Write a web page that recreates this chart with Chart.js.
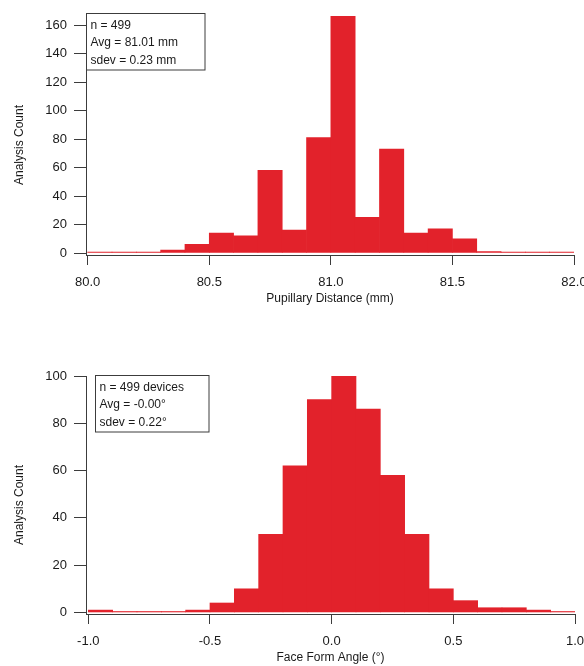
<!DOCTYPE html>
<html>
<head>
<meta charset="utf-8">
<script src="https://cdn.jsdelivr.net/npm/chart.js@4.4.0/dist/chart.umd.min.js"></script>
<style>
  html, body { margin: 0; padding: 0; background: #fff; }
  #topo { position: absolute; left: 0; top: 0; width: 584px; height: 310px; }
  #baixo { position: absolute; left: 0; top: 310px; width: 584px; height: 356px; }
</style>
</head>
<body>
<div id="topo"><canvas id="grafico_pd" width="584" height="310"></canvas></div>
<div id="baixo"><canvas id="grafico_ffa" width="584" height="356"></canvas></div>
<script>
// pupillary distance histogram (bin centres, 0.1 mm bins)
const pdBins = [80.05, 80.15, 80.25, 80.35, 80.45, 80.55, 80.65, 80.75, 80.85, 80.95,
                81.05, 81.15, 81.25, 81.35, 81.45, 81.55, 81.65, 81.75, 81.85, 81.95];
const pdCounts = [0.6, 0.6, 0.6, 2, 6, 14, 12, 58, 16, 81,
                  166, 25, 73, 14, 17, 10, 1, 0.6, 0.6, 0.6];
const pdXTicks = [80.0, 80.5, 81.0, 81.5, 82.0];
const pdYTicks = [0, 20, 40, 60, 80, 100, 120, 140, 160];
const pdStats = ['n = 499', 'Avg = 81.01 mm', 'sdev = 0.23 mm'];

// face form angle histogram (bin centres, 0.1 deg bins)
const ffaBins = [-0.95, -0.85, -0.75, -0.65, -0.55, -0.45, -0.35, -0.25, -0.15, -0.05,
                 0.05, 0.15, 0.25, 0.35, 0.45, 0.55, 0.65, 0.75, 0.85, 0.95];
const ffaCounts = [1, 0.4, 0.4, 0.4, 1, 4, 10, 33, 62, 90,
                   100, 86, 58, 33, 10, 5, 2, 2, 1, 0.4];
const ffaXTicks = [-1.0, -0.5, 0.0, 0.5, 1.0];
const ffaYTicks = [0, 20, 40, 60, 80, 100];
const ffaStats = ['n = 499 devices', 'Avg = -0.00\u00B0', 'sdev = 0.22\u00B0'];

const vermelho = '#e2222b';
const eixo = '#3c3c3c';
const fonte = "'Liberation Sans', Arial, sans-serif";

// caixa de estatisticas + titulo do eixo y
const caixaPlugin = {
    id: 'caixa',
    afterDraw(chart, args, opts) {
        const c = chart.ctx;
        c.save();
        c.fillStyle = '#fff';
        c.fillRect(opts.x, opts.y, opts.w, opts.h);
        c.strokeStyle = eixo;
        c.lineWidth = 1;
        c.strokeRect(opts.x, opts.y, opts.w, opts.h);
        c.fillStyle = '#1a1a1a';
        c.font = '12px ' + fonte;
        c.textBaseline = 'middle';
        c.textAlign = 'left';
        opts.lines.forEach(function (t, i) {
            c.fillText(t, opts.x + 4, opts.y + 12 + i * 17.5);
        });
        c.translate(opts.titleX, opts.titleY);
        c.rotate(-Math.PI / 2);
        c.textAlign = 'center';
        c.fillText('Analysis Count', 0, 0);
        c.restore();
    }
};

function histograma(canvasId, bins, counts, xTicks, yTicks, cfg) {
    const ctx = document.getElementById(canvasId);
    return new Chart(ctx, {
        type: 'bar',
        data: {
            datasets: [{
                data: bins.map(function (b, i) { return { x: b, y: counts[i] }; }),
                backgroundColor: vermelho,
                borderWidth: 0,
                barPercentage: 1,
                categoryPercentage: 1
            }]
        },
        plugins: [caixaPlugin],
        options: {
            responsive: false,
            animation: false,
            layout: { padding: { top: cfg.padTop, left: 0, right: 0, bottom: 0 } },
            plugins: {
                legend: { display: false },
                tooltip: { enabled: false },
                caixa: cfg.caixa
            },
            scales: {
                x: {
                    type: 'linear',
                    offset: false,
                    min: cfg.xMin,
                    max: cfg.xMax,
                    afterBuildTicks: function (s) { s.ticks = xTicks.map(function (v) { return { value: v }; }); },
                    afterFit: function (s) { s.height = cfg.xHeight; s.paddingRight = cfg.padRight; s.paddingLeft = 0; },
                    grid: { offset: false, drawOnChartArea: false, tickLength: 10, color: eixo },
                    border: { color: eixo, width: 1 },
                    ticks: {
                        padding: 10,
                        color: '#1a1a1a',
                        font: { family: fonte, size: 13 },
                        maxRotation: 0,
                        callback: function (v) { return v.toFixed(1); }
                    },
                    title: {
                        display: true,
                        text: cfg.xTitle,
                        color: '#1a1a1a',
                        font: { family: fonte, size: 12 },
                        padding: { top: 0, bottom: cfg.titlePad }
                    }
                },
                y: {
                    min: cfg.yMin,
                    max: cfg.yMax,
                    afterBuildTicks: function (s) { s.ticks = yTicks.map(function (v) { return { value: v }; }); },
                    afterFit: function (s) { s.width = 86; s.paddingTop = 0; s.paddingBottom = 0; },
                    grid: { drawOnChartArea: false, tickLength: 12, color: eixo },
                    border: { color: eixo, width: 1 },
                    ticks: {
                        padding: 7,
                        color: '#1a1a1a',
                        font: { family: fonte, size: 13 }
                    }
                }
            }
        }
    });
}

histograma('grafico_pd', pdBins, pdCounts, pdXTicks, pdYTicks, {
    padTop: 13.6, xMin: 79.993, xMax: 82.0, yMin: -1.4, yMax: 168,
    xHeight: 55, padRight: 10, titlePad: 4,
    xTitle: 'Pupillary Distance (mm)',
    caixa: { x: 86.5, y: 13.5, w: 118.5, h: 56.5, lines: pdStats, titleX: 20, titleY: 145 }
});

histograma('grafico_ffa', ffaBins, ffaCounts, ffaXTicks, ffaYTicks, {
    padTop: 66, xMin: -1.0095, xMax: 1.0, yMin: -0.65, yMax: 100,
    xHeight: 52, padRight: 9, titlePad: 1,
    xTitle: 'Face Form Angle (\u00B0)',
    caixa: { x: 95.5, y: 65.5, w: 113.5, h: 56.5, lines: ffaStats, titleX: 20, titleY: 195 }
});
</script>
</body>
</html>
